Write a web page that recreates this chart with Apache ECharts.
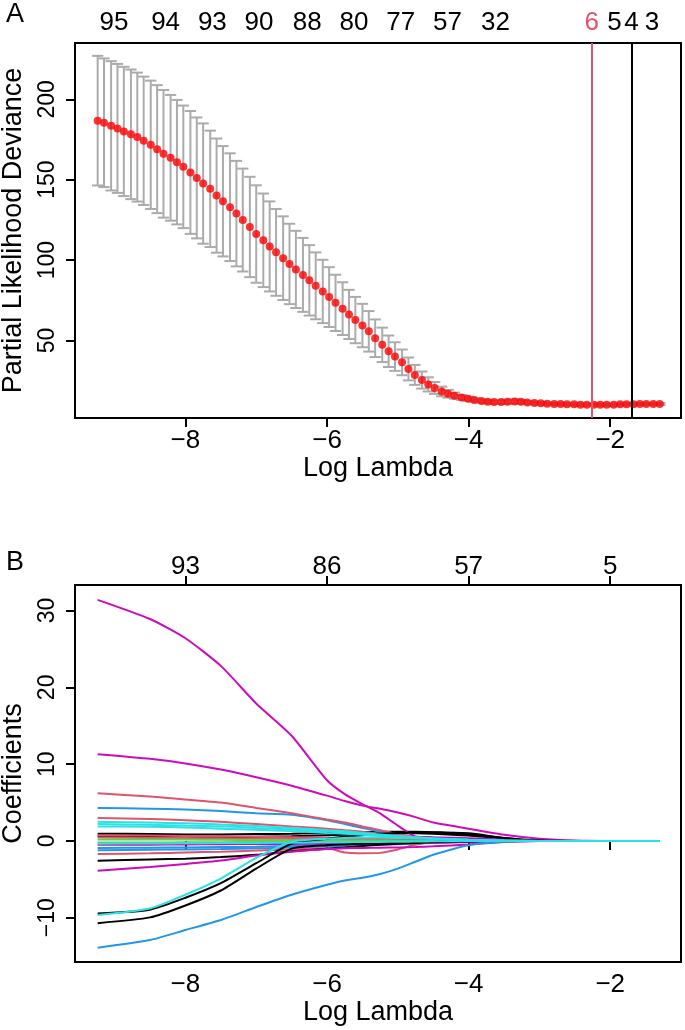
<!DOCTYPE html>
<html>
<head>
<meta charset="utf-8">
<script src="https://cdn.jsdelivr.net/npm/echarts@6/dist/echarts.min.js"></script>
<style>
  html, body { margin: 0; padding: 0; background: #fff; }
  #chart { width: 685px; height: 1030px; }
</style>
</head>
<body>
<div id="chart"></div>
<script>
// ---- panel A: cross-validation curve ----
const logLambda = [
  -9.24, -9.15, -9.05, -8.96, -8.87, -8.77, -8.68, -8.59, -8.49, -8.40,
  -8.31, -8.21, -8.12, -8.03, -7.93, -7.84, -7.75, -7.65, -7.56, -7.47,
  -7.37, -7.28, -7.19, -7.09, -7.00, -6.90, -6.81, -6.72, -6.62, -6.53,
  -6.44, -6.34, -6.25, -6.16, -6.06, -5.97, -5.88, -5.78, -5.69, -5.60,
  -5.50, -5.41, -5.32, -5.22, -5.13, -5.04, -4.94, -4.85, -4.76, -4.66,
  -4.57, -4.48, -4.38, -4.29, -4.20, -4.10, -4.01, -3.92, -3.82, -3.73,
  -3.64, -3.54, -3.45, -3.35, -3.26, -3.17, -3.07, -2.98, -2.89, -2.79,
  -2.70, -2.61, -2.51, -2.42, -2.33, -2.23, -2.14, -2.05, -1.95, -1.86,
  -1.77, -1.67, -1.58, -1.49, -1.39, -1.30
];
const cvMean = [
  186.7, 185.4, 183.5, 181.9, 180.0, 178.2, 176.5, 174.2, 171.7, 169.0,
  166.1, 163.6, 160.9, 158.0, 154.5, 151.1, 147.6, 144.3, 140.1, 136.6,
  132.9, 128.9, 124.9, 120.6, 116.2, 112.3, 108.5, 104.8, 101.2, 97.6,
  94.2, 90.8, 87.4, 84.0, 80.5, 77.0, 73.4, 69.8, 66.2, 62.7,
  59.3, 55.7, 51.4, 47.3, 43.3, 40.0, 36.4, 32.3, 28.6, 25.4,
  22.7, 20.5, 18.3, 16.9, 15.7, 14.6, 13.8, 13.0, 12.3, 11.9,
  11.7, 11.7, 11.9, 12.1, 11.9, 11.5, 11.1, 10.9, 10.7, 10.5,
  10.5, 10.3, 10.3, 10.1, 10.1, 10.1, 10.1, 10.1, 10.1, 10.3,
  10.3, 10.3, 10.5, 10.5, 10.5, 10.5
];
const cvSd = [
  40.3, 40.0, 40.2, 40.1, 40.2, 40.3, 40.1, 39.9, 39.9, 39.8,
  39.7, 39.1, 38.7, 38.1, 38.2, 37.6, 37.4, 36.2, 35.5, 34.3,
  33.5, 32.8, 32.0, 31.2, 30.3, 29.1, 28.0, 27.0, 26.0, 25.0,
  24.0, 23.0, 21.9, 20.8, 19.7, 18.6, 17.5, 16.4, 15.3, 14.4,
  13.5, 12.6, 11.7, 10.7, 9.8, 8.9, 8.0, 7.1, 6.2, 5.3,
  4.4, 3.7, 3.0, 2.4, 1.9, 1.5, 1.3, 1.1, 1.0, 1.0,
  1.0, 1.1, 1.3, 1.3, 1.1, 0.9, 0.8, 0.7, 0.7, 0.7,
  0.7, 0.7, 0.7, 0.7, 0.7, 0.7, 0.6, 0.6, 0.6, 0.6,
  0.6, 0.6, 0.6, 0.6, 0.6, 0.6
];
const topCountPos = [-9.01, -8.28, -7.62, -6.96, -6.28, -5.62, -4.96, -4.30, -3.62, -2.26, -1.94, -1.70, -1.41];
const topCountLabels = ['95', '94', '93', '90', '88', '80', '77', '57', '32', '6', '5', '4', '3'];
const lambdaMinLog = -2.26;
const lambda1seLog = -1.70;
const yTicksA = [50, 100, 150, 200];

// ---- panel B: coefficient paths ----
const logLambdaB = [-9.24, -8.5, -8, -7.5, -7, -6.5, -6, -5.75, -5.5, -5.25, -5, -4.75, -4.5, -4, -3.5, -3, -2.5, -2, -1.3];
const magentaTop    = [31.4, 28.9, 26.4, 22.8, 17.9, 13.7, 7.9, 6.1, 4.8, 3.6, 2.0, 0.6, 0.5, 0.35, 0.2, 0.08, 0, 0, 0];
const magentaSecond = [11.3, 10.7, 10.1, 9.3, 8.3, 7.2, 5.9, 5.2, 4.6, 4.2, 3.7, 3.1, 2.4, 1.6, 0.8, 0.3, 0.05, 0, 0];
const redTop        = [6.2, 5.8, 5.4, 5.0, 4.3, 3.6, 2.8, 2.4, 1.9, 1.4, 0.9, 0.5, 0.25, 0.05, 0, 0, 0, 0, 0];
const blueTop       = [4.3, 4.2, 4.1, 3.9, 3.6, 3.4, 2.7, 2.2, 1.7, 1.2, 0.8, 0.5, 0.3, 0.1, 0, 0, 0, 0, 0];
const redMid        = [3.0, 2.85, 2.7, 2.5, 2.2, 1.9, 1.6, 1.4, 1.2, 0.9, 0.65, 0.45, 0.3, 0.1, 0.02, 0, 0, 0, 0];
const cyanA         = [2.5, 2.4, 2.3, 2.15, 1.95, 1.7, 1.4, 1.25, 1.05, 0.85, 0.65, 0.5, 0.35, 0.15, 0.05, 0, 0, 0, 0];
const cyanB         = [2.2, 2.1, 2.0, 1.9, 1.7, 1.5, 1.25, 1.1, 0.95, 0.75, 0.6, 0.45, 0.3, 0.12, 0.04, 0, 0, 0, 0];
const cyanC         = [1.9, 1.85, 1.75, 1.6, 1.45, 1.3, 1.05, 0.95, 0.8, 0.65, 0.5, 0.4, 0.28, 0.1, 0.03, 0, 0, 0, 0];
const blackA        = [0.95, 0.9, 0.85, 0.85, 0.9, 0.95, 1.05, 1.1, 1.15, 1.2, 1.2, 1.2, 1.15, 1.0, 0.4, 0.03, 0, 0, 0];
const blackB        = [0.6, 0.55, 0.5, 0.5, 0.55, 0.6, 0.75, 0.8, 0.9, 0.95, 1.0, 1.0, 0.95, 0.7, 0.3, 0.05, 0, 0, 0];
const redSmall      = [0.75, 0.7, 0.65, 0.6, 0.55, 0.5, 0.42, 0.38, 0.33, 0.28, 0.22, 0.17, 0.12, 0.04, 0, 0, 0, 0, 0];
const pinkLow       = [0.45, 0.4, 0.38, 0.35, 0.3, 0.25, 0.2, 0.18, 0.15, 0.12, 0.1, 0.08, 0.05, 0.02, 0, 0, 0, 0, 0];
const greenA        = [0.2, 0.2, 0.18, 0.15, 0.12, 0.1, 0.08, 0.07, 0.06, 0.05, 0.04, 0.03, 0.02, 0, 0, 0, 0, 0, 0];
const greenB        = [-0.2, -0.2, -0.18, -0.16, -0.13, -0.1, -0.08, -0.07, -0.06, -0.05, -0.04, -0.03, -0.02, 0, 0, 0, 0, 0, 0];
const cyanSmall     = [-0.35, -0.33, -0.3, -0.28, -0.25, -0.22, -0.18, -0.16, -0.14, -0.12, -0.1, -0.08, -0.05, -0.02, 0, 0, 0, 0, 0];
const magentaSmall  = [-0.5, -0.48, -0.45, -0.42, -0.4, -0.38, -0.35, -0.33, -0.3, -0.3, -0.3, -0.28, -0.25, -0.15, -0.05, 0, 0, 0, 0];
const blueSmall     = [-0.9, -0.88, -0.85, -0.8, -0.75, -0.65, -0.55, -0.5, -0.45, -0.4, -0.35, -0.3, -0.2, -0.1, 0, 0, 0, 0, 0];
const blueSmall2    = [-1.2, -1.15, -1.1, -1.05, -0.95, -0.85, -0.72, -0.65, -0.58, -0.5, -0.42, -0.34, -0.25, -0.1, 0, 0, 0, 0, 0];
const redDip        = [-1.7, -1.6, -1.5, -1.4, -1.25, -1.1, -0.95, -1.5, -1.6, -1.55, -1.1, -0.5, -0.15, 0, 0, 0, 0, 0, 0];
const blackC        = [-2.56, -2.4, -2.3, -2.1, -1.8, -1.35, -1.0, -0.85, -0.65, -0.5, -0.35, -0.25, -0.15, -0.03, 0, 0, 0, 0, 0];
const magentaLow    = [-3.87, -3.4, -3.0, -2.55, -1.9, -1.4, -1.05, -0.95, -0.9, -0.88, -0.85, -0.8, -0.7, -0.45, -0.15, -0.02, 0, 0, 0];
const blackD        = [-9.45, -8.95, -7.4, -5.5, -2.9, -0.35, 0.3, 0.55, 0.75, 0.95, 1.05, 1.1, 1.1, 0.85, 0.4, 0.05, 0, 0, 0];
const blackE        = [-10.7, -9.95, -8.4, -6.45, -3.6, -1.0, -0.55, -0.45, -0.35, -0.3, -0.25, -0.2, -0.15, -0.05, 0, 0, 0, 0, 0];
const cyanF         = [-9.65, -8.8, -7.0, -4.9, -2.2, -0.1, 0.3, 0.4, 0.45, 0.45, 0.4, 0.35, 0.3, 0.15, 0.05, 0, 0, 0, 0];
const blueLow       = [-13.9, -12.9, -11.6, -10.3, -8.6, -7.0, -5.7, -5.15, -4.8, -4.3, -3.6, -2.7, -1.8, -0.55, -0.1, 0, 0, 0, 0];
const topTicksB = [-8, -6, -4, -2];
const topLabelsB = ['93', '86', '57', '5'];
const yTicksB = [-10, 0, 10, 20, 30];
const xTicks = [-8, -6, -4, -2];

// R 4.x palette
const BLACK = '#000000', RED = '#DF536B', GREEN = '#61D04F', BLUE = '#2297E6', CYAN = '#28E2E5', MAGENTA = '#CD0BBC';

const paths = [
  [blackA, BLACK], [blackB, BLACK], [redSmall, RED], [pinkLow, RED], [greenA, GREEN], [greenB, GREEN],
  [blueSmall, BLUE], [blueSmall2, BLUE], [magentaSmall, MAGENTA], [redDip, RED], [blackC, BLACK],
  [magentaLow, MAGENTA], [redMid, RED], [blueTop, BLUE], [redTop, RED], [magentaSecond, MAGENTA],
  [magentaTop, MAGENTA], [blackE, BLACK], [blackD, BLACK], [cyanF, CYAN], [blueLow, BLUE],
  [cyanSmall, CYAN], [cyanC, CYAN], [cyanB, CYAN], [cyanA, CYAN]
];

const FONT = '"Liberation Sans", Arial, Helvetica, sans-serif';
const xTickSize = 26, yTickSize = 23, titleSize = 27;
const xMin = -9.56, xMax = -1.0;

function minusFmt(v) { return v < 0 ? '\u2212' + Math.abs(v) : String(v); }
function nearestIdx(arr, v) {
  let best = 0;
  arr.forEach((a, i) => { if (Math.abs(a - v) < Math.abs(arr[best] - v)) best = i; });
  return best;
}

const chart = echarts.init(document.getElementById('chart'), null, { renderer: 'canvas' });

const tickStyle = { color: '#000', width: 2 };
const xLabelBase = { color: '#000', fontSize: xTickSize, fontFamily: FONT };
const yLabelBase = { color: '#000', fontSize: yTickSize, fontFamily: FONT };
const nameBase = { color: '#000', fontSize: titleSize, fontFamily: FONT };

function bottomX(gridIndex) {
  return {
    gridIndex, type: 'value', min: xMin, max: xMax, position: 'bottom',
    axisLine: { show: false }, splitLine: { show: false },
    axisTick: { show: true, customValues: xTicks, length: 9, lineStyle: tickStyle },
    axisLabel: Object.assign({ customValues: xTicks, formatter: minusFmt, margin: 10 }, xLabelBase),
    name: 'Log Lambda', nameLocation: 'middle', nameGap: 36, nameTextStyle: nameBase
  };
}

const errData = logLambda.map((x, i) => [x, cvMean[i] - cvSd[i], cvMean[i] + cvSd[i]]);
const capHalf = 0.08;

const option = {
  animation: false,
  backgroundColor: '#fff',
  grid: [
    { left: 75, right: 4, top: 43, bottom: 612, show: true, borderColor: '#000', borderWidth: 2, outerBoundsMode: 'none', containLabel: false },
    { left: 75, right: 4, top: 585, bottom: 68, show: true, borderColor: '#000', borderWidth: 2, outerBoundsMode: 'none', containLabel: false }
  ],
  graphic: [
    { type: 'text', left: 6, top: 1, style: { text: 'A', fontSize: titleSize, fontFamily: FONT, fill: '#000' } },
    { type: 'text', left: 6, top: 549, style: { text: 'B', fontSize: titleSize, fontFamily: FONT, fill: '#000' } }
  ],
  xAxis: [
    bottomX(0),
    {
      gridIndex: 0, type: 'value', min: xMin, max: xMax, position: 'top',
      axisLine: { show: false }, axisTick: { show: false }, splitLine: { show: false },
      axisLabel: Object.assign({
        customValues: topCountPos, margin: 7,
        formatter: v => {
          const i = nearestIdx(topCountPos, v);
          return topCountPos[i] === lambdaMinLog ? '{r|' + topCountLabels[i] + '}' : topCountLabels[i];
        },
        rich: { r: { color: RED, fontSize: xTickSize, fontFamily: FONT } }
      }, xLabelBase)
    },
    bottomX(1),
    {
      gridIndex: 1, type: 'value', min: xMin, max: xMax, position: 'top',
      axisLine: { show: false }, splitLine: { show: false },
      axisTick: { show: true, customValues: topTicksB, length: 9, lineStyle: tickStyle },
      axisLabel: Object.assign({
        customValues: topTicksB, margin: 5,
        formatter: v => topLabelsB[nearestIdx(topTicksB, v)]
      }, xLabelBase)
    }
  ],
  yAxis: [
    {
      gridIndex: 0, type: 'value', min: 1.8, max: 235,
      axisLine: { show: false }, splitLine: { show: false },
      axisTick: { show: true, customValues: yTicksA, length: 9, lineStyle: tickStyle },
      axisLabel: Object.assign({ customValues: yTicksA, rotate: 90, margin: 16 }, yLabelBase),
      name: 'Partial Likelihood Deviance', nameLocation: 'middle', nameRotate: 90, nameGap: 48,
      nameTextStyle: nameBase
    },
    {
      gridIndex: 1, type: 'value', min: -15.76, max: 33.33,
      axisLine: { show: false }, splitLine: { show: false },
      axisTick: { show: true, customValues: yTicksB, length: 9, lineStyle: tickStyle },
      axisLabel: Object.assign({ customValues: yTicksB, rotate: 90, margin: 16, formatter: minusFmt }, yLabelBase),
      name: 'Coefficients', nameLocation: 'middle', nameRotate: 90, nameGap: 48,
      nameTextStyle: nameBase
    }
  ],
  series: [
    {
      type: 'custom', xAxisIndex: 0, yAxisIndex: 0, silent: true, z: 2,
      data: errData,
      encode: { x: 0, y: [1, 2] },
      renderItem: function (params, api) {
        const x = api.value(0), lo = api.value(1), hi = api.value(2);
        const pTop = api.coord([x, hi]);
        const pBot = api.coord([x, lo]);
        const half = api.coord([x + capHalf, hi])[0] - pTop[0];
        const st = { stroke: '#ABABAB', lineWidth: 2 };
        return {
          type: 'group',
          children: [
            { type: 'line', shape: { x1: pTop[0], y1: pTop[1], x2: pBot[0], y2: pBot[1] }, style: st },
            { type: 'line', shape: { x1: pTop[0] - half, y1: pTop[1], x2: pTop[0] + half, y2: pTop[1] }, style: st },
            { type: 'line', shape: { x1: pBot[0] - half, y1: pBot[1], x2: pBot[0] + half, y2: pBot[1] }, style: st }
          ]
        };
      }
    },
    {
      type: 'scatter', xAxisIndex: 0, yAxisIndex: 0, silent: true, z: 3,
      symbolSize: 8,
      itemStyle: { color: '#FF0000' },
      data: logLambda.map((x, i) => [x, cvMean[i]]),
      markLine: {
        silent: true, symbol: 'none', label: { show: false },
        data: [
          { xAxis: lambdaMinLog, lineStyle: { color: RED, width: 2, type: 'solid' } },
          { xAxis: lambda1seLog, lineStyle: { color: BLACK, width: 2, type: 'solid' } }
        ]
      }
    }
  ].concat(paths.map(([vals, col]) => ({
    type: 'line', xAxisIndex: 2, yAxisIndex: 1, silent: true,
    showSymbol: false, symbol: 'none', smooth: 0.2,
    lineStyle: { color: col, width: 2 },
    data: logLambdaB.map((x, i) => [x, vals[i]])
  })))
};

chart.setOption(option);
</script>
</body>
</html>
